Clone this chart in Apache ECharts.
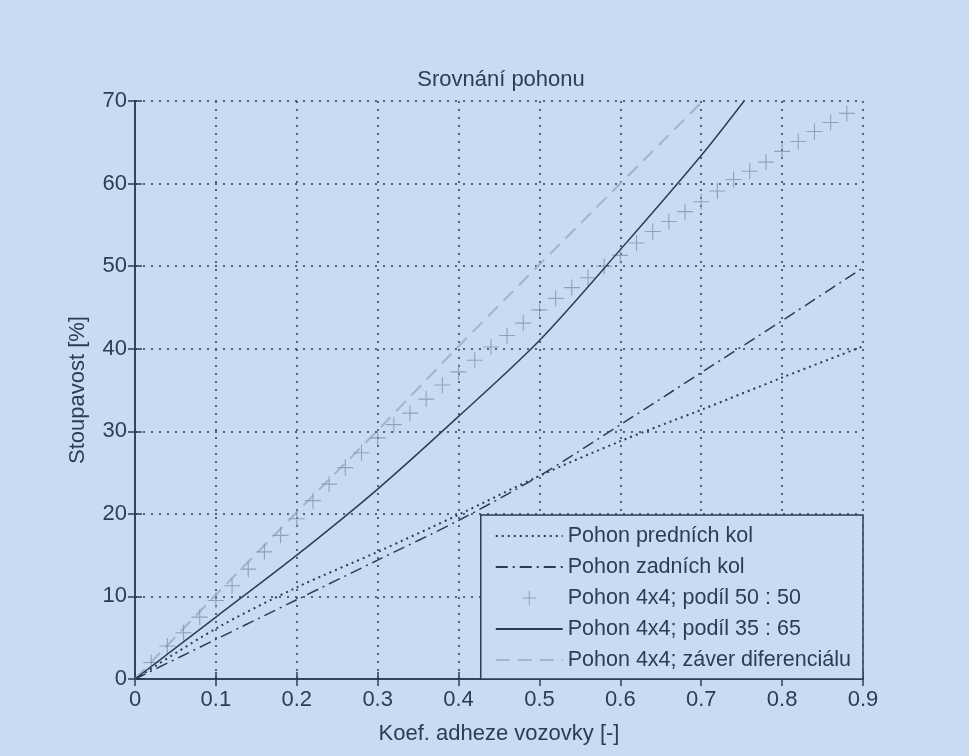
<!DOCTYPE html>
<html>
<head>
<meta charset="utf-8">
<script src="https://cdn.jsdelivr.net/npm/echarts@6/dist/echarts.min.js"></script>
<style>
  html, body { margin: 0; padding: 0; background: #c8dbf1; }
  #chart { width: 969px; height: 756px; }
</style>
</head>
<body>
<div id="chart"></div>
<script>
// data
const seriesNames = [
  "Pohon predních kol",
  "Pohon zadních kol",
  "Pohon 4x4; podíl 50 : 50",
  "Pohon 4x4; podíl 35 : 65",
  "Pohon 4x4; záver diferenciálu",
];

// predni + zadni (stejne x)
const xBasic = [0, 0.1, 0.2, 0.3, 0.4, 0.5, 0.6, 0.7, 0.8, 0.9];
const yFront = [0, 6.1, 11.1, 15.4, 19.9, 24.6, 28.8, 32.6, 36.5, 40.3];
const yRear = [0, 4.8, 9.6, 14.4, 19.2, 24.6, 30.8, 37.1, 43.4, 49.8];

// 4x4 50:50 (body)
const x5050 = [0.02, 0.04, 0.06, 0.08, 0.1, 0.12, 0.14, 0.16, 0.18, 0.2, 0.22,
  0.24, 0.26, 0.28, 0.3, 0.32, 0.34, 0.36, 0.38, 0.4, 0.42, 0.44, 0.46, 0.48,
  0.5, 0.52, 0.54, 0.56, 0.58, 0.6, 0.62, 0.64, 0.66, 0.68, 0.7, 0.72, 0.74,
  0.76, 0.78, 0.8, 0.82, 0.84, 0.86, 0.88];
const y5050 = [2.0, 4.0, 5.6, 7.5, 9.5, 11.3, 13.3, 15.4, 17.4, 19.4, 21.6,
  23.6, 25.6, 27.4, 29.2, 30.8, 32.2, 33.9, 35.6, 37.2, 38.6, 40.2, 41.6, 43.1,
  44.7, 46.1, 47.4, 48.6, 50.0, 51.3, 52.8, 54.2, 55.4, 56.6, 57.8, 59.1, 60.5,
  61.5, 62.6, 63.9, 65.1, 66.3, 67.4, 68.5];

// 4x4 35:65
const x3565 = [0, 0.1, 0.2, 0.3, 0.4, 0.5, 0.6, 0.7, 0.753];
const y3565 = [0, 7.5, 15.0, 23.0, 31.8, 41.0, 52.0, 63.4, 70];

// 4x4 zaver diferencialu
const xLock = [0, 0.1, 0.2, 0.3, 0.4, 0.5, 0.6, 0.7];
const yLock = [0, 10.2, 20.2, 30.1, 40.3, 50.2, 60.0, 69.8];

const xTicks = { min: 0, max: 0.9, step: 0.1 };
const yTicks = { min: 0, max: 70, step: 10 };

const pairs = (xs, ys) => xs.map((x, i) => [x, ys[i]]);

const ink = "#2e3b58";
const font = "'Liberation Sans Narrow', 'Liberation Sans', Arial, sans-serif";
const plusPath =
  "path://M-0.07,-1L0.07,-1L0.07,-0.07L1,-0.07L1,0.07L0.07,0.07L0.07,1L-0.07,1L-0.07,0.07L-1,0.07L-1,-0.07L-0.07,-0.07Z";

const chart = echarts.init(document.getElementById("chart"));

const baseX = {
  type: "value",
  min: xTicks.min,
  max: xTicks.max,
  interval: xTicks.step,
  axisLine: { show: true, lineStyle: { color: ink, width: 1.5 } },
  axisTick: { show: true, inside: true, length: 7, lineStyle: { color: ink, width: 1.5 } },
};
const baseY = {
  type: "value",
  min: yTicks.min,
  max: yTicks.max,
  interval: yTicks.step,
  axisLine: { show: true, lineStyle: { color: ink, width: 1.5 } },
  axisTick: { show: true, inside: true, length: 7, lineStyle: { color: ink, width: 1.5 } },
};

// legenda: u car schovat kolecko
const legendData = seriesNames.map((n, i) =>
  i === 2 ? { name: n } : { name: n, itemStyle: { opacity: 0 } }
);

const options = {
  backgroundColor: "#c8dbf1",
  animation: false,
  textStyle: { fontFamily: font },
  title: {
    text: "Srovnání pohonu",
    left: 496,
    textAlign: "center",
    top: 64,
    textStyle: { fontFamily: font, fontSize: 22, fontWeight: "normal", color: ink },
  },
  grid: { left: 135, right: 106, top: 101, bottom: 77 },
  xAxis: [
    Object.assign({}, baseX, {
      position: "bottom",
      name: "Koef. adheze vozovky [-]",
      nameLocation: "middle",
      nameGap: 44,
      nameTextStyle: { fontFamily: font, fontSize: 22, color: ink },
      axisLabel: {
        fontFamily: font,
        fontSize: 22,
        color: ink,
        margin: 10,
        formatter: (v) => String(Math.round(v * 10) / 10),
      },
      splitLine: { show: true, lineStyle: { color: ink, width: 1.5, type: [2, 6] } },
    }),
    Object.assign({}, baseX, {
      position: "top",
      axisLabel: { show: false },
      splitLine: { show: false },
    }),
  ],
  yAxis: [
    Object.assign({}, baseY, {
      position: "left",
      name: "Stoupavost [%]",
      nameLocation: "middle",
      nameGap: 46,
      nameTextStyle: { fontFamily: font, fontSize: 22, color: ink },
      axisLabel: { fontFamily: font, fontSize: 22, color: ink, margin: 8 },
      splitLine: { show: true, lineStyle: { color: ink, width: 1.5, type: [2, 6] } },
    }),
    Object.assign({}, baseY, {
      position: "right",
      axisLabel: { show: false },
      splitLine: { show: false },
    }),
  ],
  legend: {
    orient: "vertical",
    right: 106,
    bottom: 77,
    backgroundColor: "#c8dbf1",
    borderColor: ink,
    borderWidth: 1.5,
    padding: [10, 12, 8, 14],
    itemWidth: 67,
    itemHeight: 14,
    itemGap: 9,
    textStyle: { fontFamily: font, fontSize: 21.5, color: ink },
    data: legendData,
  },
  series: [
    {
      name: seriesNames[0],
      type: "line",
      data: pairs(xBasic, yFront),
      symbol: "none",
      smooth: 0.3,
      lineStyle: { color: ink, width: 2, type: [2, 4] },
      itemStyle: { color: ink },
      z: 3,
    },
    {
      name: seriesNames[1],
      type: "line",
      data: pairs(xBasic, yRear),
      symbol: "none",
      smooth: 0.3,
      lineStyle: { color: ink, width: 1.5, type: [12, 5, 2, 5] },
      itemStyle: { color: ink },
      z: 3,
    },
    {
      name: seriesNames[2],
      type: "scatter",
      data: pairs(x5050, y5050),
      symbol: plusPath,
      symbolSize: 16,
      itemStyle: { color: "#8492aa" },
      z: 2,
    },
    {
      name: seriesNames[3],
      type: "line",
      data: pairs(x3565, y3565),
      symbol: "none",
      smooth: 0.3,
      lineStyle: { color: ink, width: 1.5, type: "solid" },
      itemStyle: { color: ink },
      z: 3,
    },
    {
      name: seriesNames[4],
      type: "line",
      data: pairs(xLock, yLock),
      symbol: "none",
      lineStyle: { color: "#a3b3c9", width: 2, type: [14, 8] },
      itemStyle: { color: "#a3b3c9" },
      z: 1,
    },
  ],
};

chart.setOption(options);
</script>
</body>
</html>
